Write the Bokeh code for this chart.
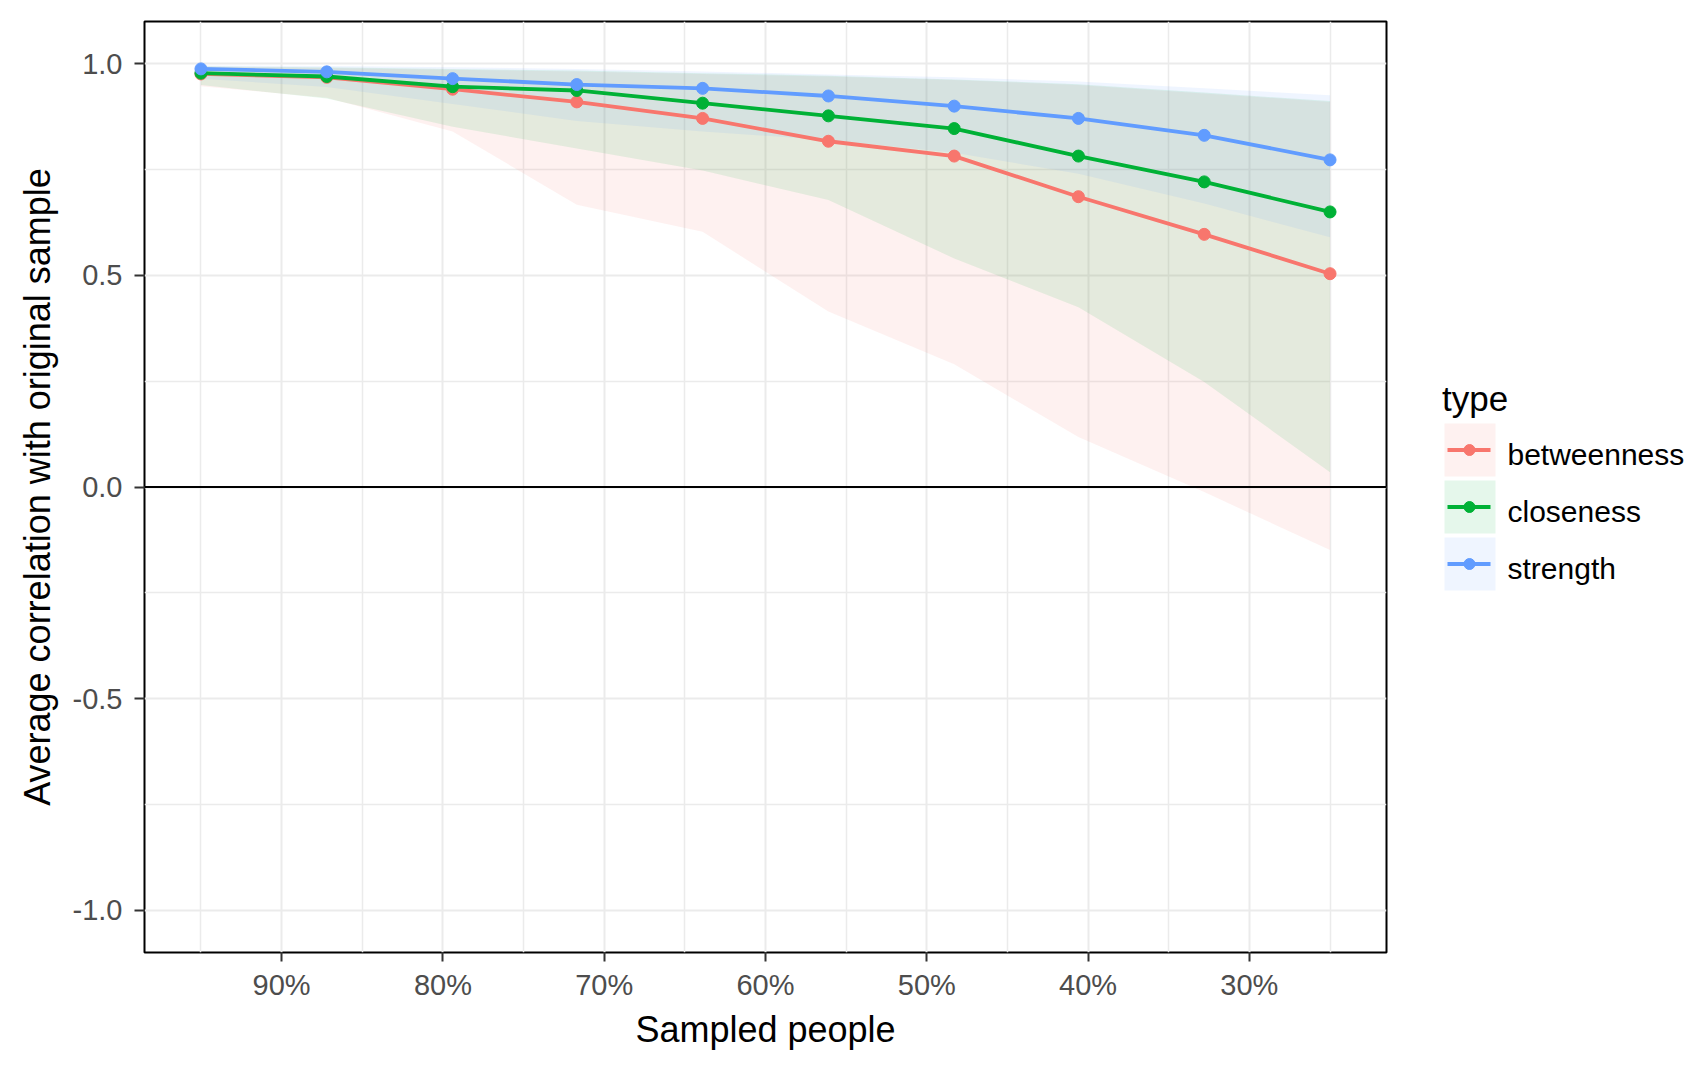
from bokeh.plotting import figure
from bokeh.models import Range1d, FixedTicker, NumeralTickFormatter, Span
from bokeh.layouts import row
from bokeh.embed import file_html
from bokeh.resources import INLINE
from bokeh.core.properties import value

# ---------------- data ----------------
sampled = [0.95, 0.872, 0.794, 0.717, 0.639, 0.561, 0.483, 0.406, 0.328, 0.25]

types = ["betweenness", "closeness", "strength"]
colors = ["#F8766D", "#00B136", "#619CFF"]

betweenness = [0.976, 0.968, 0.940, 0.910, 0.871, 0.817, 0.782, 0.686, 0.597, 0.504]
closeness = [0.978, 0.970, 0.946, 0.937, 0.907, 0.877, 0.847, 0.782, 0.721, 0.650]
strength = [0.988, 0.981, 0.965, 0.951, 0.942, 0.924, 0.900, 0.871, 0.831, 0.773]

betweenness_lo = [0.947, 0.920, 0.840, 0.667, 0.603, 0.415, 0.290, 0.118, -0.012, -0.149]
betweenness_hi = [0.993, 0.990, 0.986, 0.982, 0.976, 0.970, 0.962, 0.950, 0.930, 0.910]
closeness_lo = [0.950, 0.918, 0.851, 0.800, 0.748, 0.678, 0.540, 0.425, 0.248, 0.035]
closeness_hi = [0.994, 0.992, 0.988, 0.984, 0.978, 0.972, 0.963, 0.952, 0.932, 0.912]
strength_lo = [0.965, 0.945, 0.905, 0.865, 0.840, 0.820, 0.790, 0.740, 0.670, 0.590]
strength_hi = [0.996, 0.995, 0.992, 0.988, 0.982, 0.975, 0.968, 0.958, 0.942, 0.926]

x_ticks = [0.9, 0.8, 0.7, 0.6, 0.5, 0.4, 0.3]
x_minor = [0.95, 0.85, 0.75, 0.65, 0.55, 0.45, 0.35, 0.25]
y_ticks = [-1.0, -0.5, 0.0, 0.5, 1.0]
y_minor = [-0.75, -0.25, 0.25, 0.75]

x_title = "Sampled people"
y_title = "Average correlation with original sample"
legend_title = "type"

FONT = "Liberation Sans"

means = [betweenness, closeness, strength]
los = [betweenness_lo, closeness_lo, strength_lo]
his = [betweenness_hi, closeness_hi, strength_hi]

# frame placement (page pixels)
FR_TOP, FR_BOTTOM = 21, 952
H = 1061

# ---------------- main plot ----------------
p = figure(width=1408, height=H, output_backend="svg", toolbar_location=None,
           title=None,
           x_range=Range1d(0.985, 0.215), y_range=Range1d(-1.1, 1.1),
           min_border_left=144, min_border_right=22, min_border_top=FR_TOP,
           min_border_bottom=H - FR_BOTTOM)
p.background_fill_color = "white"
p.border_fill_color = "white"
p.outline_line_color = "black"
p.outline_line_width = 2

for g in (p.xgrid, p.ygrid):
    g.grid_line_color = "#EBEBEB"
    g.grid_line_width = 2
    g.minor_grid_line_color = "#EBEBEB"
    g.minor_grid_line_width = 1.5

p.xaxis.ticker = FixedTicker(ticks=x_ticks, minor_ticks=x_minor)
p.yaxis.ticker = FixedTicker(ticks=y_ticks, minor_ticks=y_minor)
p.xaxis.formatter = NumeralTickFormatter(format="0%")
p.yaxis.formatter = NumeralTickFormatter(format="0.0")

for ax in (p.xaxis, p.yaxis):
    ax.axis_line_color = None
    ax.major_tick_line_color = "#333333"
    ax.major_tick_line_width = 2
    ax.major_tick_in = 0
    ax.minor_tick_line_color = None
    ax.major_label_text_font = FONT
    ax.major_label_text_font_size = "29px"
    ax.major_label_text_color = "#4D4D4D"
    ax.axis_label_text_font = FONT
    ax.axis_label_text_font_size = "36px"
    ax.axis_label_text_font_style = "normal"
    ax.axis_label_text_color = "black"

p.xaxis.major_tick_out = 9
p.xaxis.major_label_standoff = 7
p.xaxis.axis_label_standoff = 5
p.xaxis.axis_label = x_title
p.yaxis.major_tick_out = 10
p.yaxis.major_label_standoff = 12
p.yaxis.axis_label_standoff = 12
p.yaxis.axis_label = y_title

for lo, hi, c in zip(los, his, colors):
    p.varea(x=sampled, y1=lo, y2=hi, fill_color=c, fill_alpha=0.1)

p.add_layout(Span(location=0, dimension="width", line_color="black", line_width=2))

for m, c in zip(means, colors):
    p.line(x=sampled, y=m, line_color=c, line_width=3.8)
    p.scatter(x=sampled, y=m, size=12, fill_color=c, line_color=c)

# ---------------- legend panel (page-pixel coordinates) ----------------
LW = 284
lg = figure(width=LW, height=H, output_backend="svg", toolbar_location=None,
            title=None, x_range=Range1d(0, LW), y_range=Range1d(FR_BOTTOM, FR_TOP),
            min_border_left=0, min_border_right=0, min_border_top=FR_TOP,
            min_border_bottom=H - FR_BOTTOM, x_axis_type=None, y_axis_type=None)
lg.outline_line_color = None
lg.xgrid.visible = False
lg.ygrid.visible = False
lg.background_fill_color = "white"
lg.border_fill_color = "white"

key_left, key_right = 36, 87
row_top0, row_h, row_pitch = 423, 53, 57
idx = list(range(len(types)))
tops = [row_top0 + i * row_pitch for i in idx]
centers = [t + row_h / 2 for t in tops]

for i, (t, c) in enumerate(zip(types, colors)):
    top = tops[i]
    lg.quad(left=key_left, right=key_right, top=top, bottom=top + row_h,
            fill_color=c, fill_alpha=0.1, line_color=None)
    lg.line(x=[key_left + 3, key_right - 5], y=[centers[i], centers[i]],
            line_color=c, line_width=3.8)
    lg.scatter(x=[(key_left + key_right) / 2 - 0.5], y=[centers[i]], size=11,
               fill_color=c, line_color=c)

lg.text(x=[99] * len(types), y=[c + 4.5 for c in centers], text=types,
        text_font=value(FONT), text_font_size=value("30px"),
        text_color="black", text_baseline="alphabetic", text_align="left")
lg.text(x=[33.5], y=[397.5], text=[legend_title],
        text_font=value(FONT), text_font_size=value("35px"),
        text_color="black", text_baseline="alphabetic", text_align="left")

layout = row(p, lg)
open("out.html", "w").write(file_html(layout, INLINE))
